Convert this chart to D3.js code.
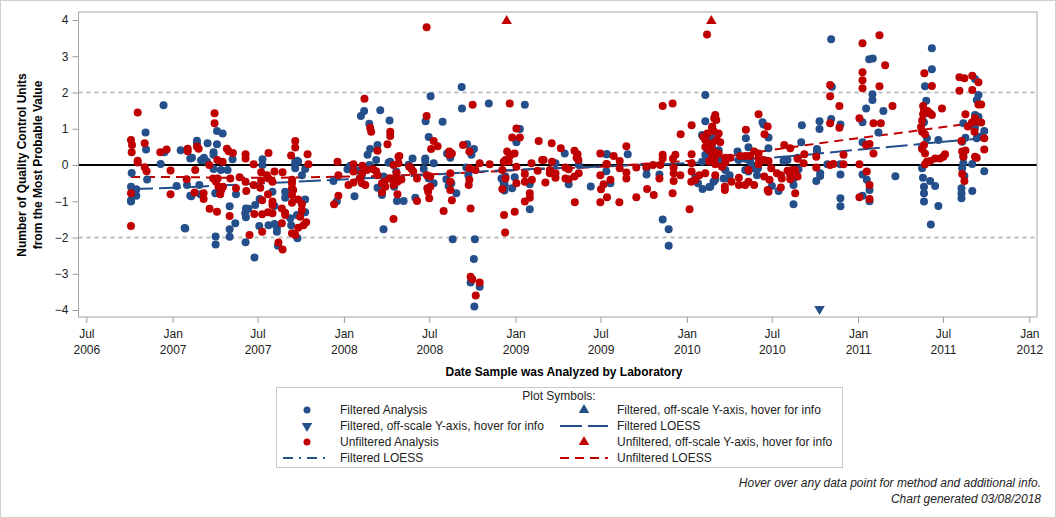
<!DOCTYPE html>
<html><head><meta charset="utf-8">
<script src="https://cdn.jsdelivr.net/npm/d3@7"></script>
<style>body{margin:0;background:#fff}svg{display:block;font-family:"Liberation Sans",Arial,sans-serif}</style>
</head><body><svg id="c" width="1056" height="518"></svg>
<script>
// x values are decimal years (date sample analyzed), y values in QC units
const filteredPts = [
[2006.947,1.65],[2006.842,0.9],[2006.845,0.43],[2007.047,0.41],[2007.103,0.18],[2006.930,0.03],[2006.761,-0.22],[2006.851,-0.4],
[2006.757,-0.6],[2006.788,-0.67],[2006.788,-0.85],[2006.757,-1.01],[2006.757,-0.97],[2007.023,-0.58],[2007.103,-0.85],[2007.070,-1.74],[2006.952,0.35],
[2007.259,0.94],[2007.292,0.87],[2007.142,0.67],[2007.142,0.6],[2007.204,0.6],[2007.259,0.57],[2007.113,0.2],[2007.166,0.13],[2007.239,0.35],
[2007.239,0.28],[2007.183,0.2],[2007.2,0.1],[2007.35,0.16],[2007.525,0.16],[2007.525,0.0],[2007.239,-0.11],[2007.282,-0.14],[2007.321,-0.14],
[2007.084,-0.55],[2007.156,-0.55],[2007.109,-0.86],[2007.162,-0.81],[2007.249,-0.78],[2007.268,-0.72],[2007.37,-0.81],[2007.333,-1.14],
[2007.366,-1.61],[2007.333,-1.77],[2007.333,-1.98],[2007.428,-1.2],[2007.443,-1.21],[2007.424,-1.33],[2007.428,-1.44],[2007.482,-1.1],
[2007.426,-2.13],[2007.251,-1.97],[2007.251,-2.19],[2007.478,-2.55],[2007.508,-0.94],[2007.506,-1.68],[2007.583,-0.74],[2007.595,-1.13],
[2007.56,-1.66],[2007.595,-1.63],[2007.609,-1.73],[2007.609,-1.84],[2007.657,-0.9],[2007.657,-0.74],[2007.615,-2.23],[2007.687,-1.47],
[2007.692,-1.66],[2007.716,-1.93],[2007.074,-1.75],[2007.716,0.0],
[2007.726,0.12],[2007.716,0.08],[2007.733,0.1],[2007.716,-0.09],[2007.774,-0.11],[2007.755,-0.28],[2007.774,-0.95],[2007.774,-1.3],
[2007.726,-1.38],[2007.729,-2.02],[2007.939,-0.44],[2007.959,-1.0],[2008.021,-0.12],[2008.037,-0.02],[2008.062,-0.86],[2008.099,1.35],
[2008.118,1.49],[2008.148,1.14],[2008.212,1.51],[2008.266,1.23],[2008.153,0.44],[2008.138,0.28],[2008.196,0.55],[2008.188,0.14],
[2008.149,0.0],[2008.079,-0.15],[2008.105,-0.28],[2008.196,-0.63],[2008.222,-0.83],[2008.231,-0.32],[2008.26,0.06],[2008.27,0.09],
[2008.305,-0.18],[2008.293,-0.6],[2008.309,-0.99],[2008.231,-1.77],
[2008.686,2.15],[2008.505,1.9],[2008.688,1.56],[2008.844,1.7],[2008.476,1.21],[2008.575,1.19],[2008.494,0.77],[2008.718,0.57],
[2008.758,0.44],[2008.743,0.28],[2008.601,0.32],[2008.62,0.2],[2008.4,0.18],[2008.474,0.18],[2008.474,0.11],[2008.523,0.05],
[2008.377,0.01],[2008.465,-0.11],[2008.494,-0.37],[2008.523,-0.5],[2008.416,-0.9],[2008.348,-0.99],[2008.597,-0.39],[2008.61,-0.58],
[2008.626,-0.5],[2008.655,-0.78],[2008.634,-2.05],[2008.713,-0.07],[2008.725,-0.28],[2008.763,-2.05],[2008.757,-2.59],[2008.738,-3.24],
[2008.791,-3.36],[2008.76,-3.9],[2008.918,-0.37],[2008.931,-0.5],
[2009.054,1.66],[2009.025,0.99],[2009.005,0.63],[2009.287,0.32],[2009.369,0.0],[2009.53,0.3],[2009.233,0.05],[2009.2,-0.16],
[2009.31,-0.53],[2008.941,-0.32],[2008.995,-0.34],[2008.937,-0.55],[2008.98,-0.64],[2008.935,-0.7],[2009.083,-0.53],[2009.083,-1.22],
[2009.439,-0.59],[2009.53,-0.17],
[2010.108,1.93],[2010.108,1.21],[2010.089,0.83],[2009.655,0.3],[2009.534,0.3],[2009.554,-0.5],[2009.765,-0.09],[2009.765,-0.26],
[2009.84,-0.26],[2009.859,-1.5],[2009.894,-1.77],[2009.894,-2.23],[2010.05,-0.34],[2010.065,-0.5],[2010.092,-0.66],[2010.131,-0.61],
[2010.156,-0.46],[2010.089,0.09],[2010.108,0.28],[2010.137,0.23],[2010.147,0.74],[2010.147,0.48],
[2010.147,0.61],[2010.186,0.41],[2010.176,0.23],[2010.195,0.09],[2010.166,0.2],[2010.166,-0.41],[2010.137,-0.6],[2010.215,-0.37],
[2010.235,-0.37],[2010.25,-0.28],[2010.225,-0.14],[2010.296,0.37],[2010.302,0.14],[2010.341,0.17],[2010.37,0.17],[2010.37,0.09],
[2010.38,0.0],[2010.341,-0.14],[2010.36,-0.18],[2010.389,-0.09],[2010.345,0.74],[2010.36,0.49],[2010.442,1.18],[2010.448,1.12],
[2010.477,0.76],[2010.477,0.46],[2010.416,-0.09],[2010.41,-0.28],[2010.497,-0.58],[2010.536,-0.72],[2010.565,0.11],[2010.588,0.14],
[2010.623,-0.37],[2010.623,-0.55],[2010.623,-1.08],[2010.652,-0.12],[2010.647,0.2],[2010.672,1.1],[2010.668,0.63],[2010.76,0.37],
[2010.756,-0.44],[2010.775,1.21],[2010.775,0.99],[2010.779,-0.3],
[2010.843,3.47],[2010.847,2.16],[2011.065,2.92],[2011.086,2.94],[2011.084,1.95],[2011.084,1.79],[2011.047,1.56],[2011.148,1.49],
[2010.843,1.27],[2010.897,1.12],[2011.026,1.18],[2011.119,0.9],[2011.026,0.63],[2010.76,0.44],[2010.821,0.02],[2010.896,0.02],
[2010.779,-0.23],[2010.897,-0.26],[2011.026,-0.26],[2011.051,-0.41],[2011.067,-0.69],[2011.026,-0.85],[2011.067,-1.0],[2010.897,-0.92],
[2010.897,-1.14],[2011.218,-0.31],[2011.391,2.17],[2011.385,1.18],[2011.374,0.5],[2011.374,-0.09],[2011.379,-0.35],[2011.385,-0.6],
[2011.385,-0.78],[2011.385,-1.01],
[2011.431,3.22],[2011.431,2.64],[2011.398,1.77],[2011.402,1.43],[2011.402,0.74],[2011.469,0.69],[2011.421,-0.44],[2011.45,-0.58],
[2011.469,-1.13],[2011.425,-1.64],[2011.683,2.37],[2011.703,1.93],[2011.693,1.79],[2011.683,1.38],[2011.703,1.33],[2011.615,1.15],
[2011.667,1.15],[2011.683,1.03],[2011.737,0.94],[2011.627,0.75],[2011.608,0.64],[2011.693,0.74],[2011.712,0.78],[2011.615,0.23],
[2011.615,0.05],[2011.608,-0.09],[2011.667,0.03],[2011.621,-0.3],[2011.737,-0.17],[2011.604,-0.64],[2011.604,-0.78],[2011.604,-0.92],
[2011.667,-0.72]
];
const unfilteredPts = [
[2006.796,1.45],[2006.757,0.69],[2006.763,0.55],[2006.837,0.6],[2006.761,0.35],[2006.928,0.35],[2006.965,0.43],[2007.088,0.45],
[2007.088,0.38],[2006.796,0.12],[2006.796,0.07],[2006.837,-0.06],[2006.848,-0.17],[2006.988,-0.15],[2007.082,-0.39],[2006.757,-0.78],
[2006.988,-0.81],[2006.757,-1.68],
[2007.245,1.43],[2007.245,1.15],[2007.152,0.45],[2007.142,0.51],[2007.317,0.45],[2007.327,0.38],[2007.352,0.33],[2007.426,0.3],
[2007.426,0.18],[2007.56,0.33],[2007.261,0.14],[2007.292,0.09],[2007.214,0.0],[2007.473,0.02],[2007.132,-0.14],[2007.517,-0.2],
[2007.595,-0.18],[2007.642,-0.2],[2007.692,0.26],[2007.237,-0.37],[2007.263,-0.37],[2007.337,-0.37],[2007.391,-0.34],[2007.426,-0.46],
[2007.473,-0.55],[2007.551,-0.28],[2007.56,-0.37],[2007.517,-0.43],[2007.583,-0.46],[2007.128,-0.76],[2007.181,-0.78],[2007.181,-0.94],
[2007.253,-0.46],[2007.268,-0.6],[2007.284,-0.69],[2007.278,-0.81],[2007.294,-0.6],[2007.37,-0.64],[2007.43,-0.72],[2007.216,-1.21],
[2007.259,-1.29],[2007.333,-1.41],[2007.477,-1.35],[2007.449,-1.93],[2007.512,-0.63],[2007.523,-0.97],[2007.523,-1.36],[2007.523,-1.84],
[2007.557,-0.81],[2007.583,-1.01],[2007.583,-1.1],[2007.557,-1.3],[2007.583,-1.33],[2007.638,-1.2],[2007.657,-1.32],[2007.638,-1.61],
[2007.657,-1.38],[2007.618,-2.14],[2007.642,-2.33],[2007.697,-0.5],[2007.697,-0.64],[2007.697,-0.83],[2007.697,-1.04],[2007.697,-1.88],
[2007.716,0.66],[2007.716,0.48],
[2007.788,0.3],[2007.793,0.02],[2007.698,-0.41],[2007.704,-0.69],[2007.733,-0.95],[2007.755,-1.08],[2007.755,-1.24],[2007.745,-1.43],
[2007.78,-1.58],[2007.733,-1.73],[2007.764,-1.66],[2007.716,-1.93],[2007.963,0.09],[2007.968,-0.28],[2007.968,-0.85],[2007.943,-1.08],
[2008.027,-0.55],[2008.056,0.02],[2008.056,-0.18],[2008.056,-0.48],[2008.12,1.83],[2008.153,1.03],[2008.159,0.92],[2008.27,0.92],
[2008.27,0.8],[2008.254,0.57],[2008.196,0.39],[2008.108,-0.02],[2008.135,-0.14],[2008.169,-0.11],[2008.188,-0.17],[2008.196,-0.28],
[2008.105,-0.23],[2008.095,-0.37],[2008.105,-0.5],[2008.125,-0.55],[2008.222,-0.5],[2008.241,-0.6],[2008.222,-0.75],[2008.237,-0.46],
[2008.266,-0.37],[2008.289,-0.55],[2008.289,0.0],[2008.318,0.05],[2008.318,0.23],[2008.312,-0.81],[2008.289,-1.49],
[2008.482,3.8],[2008.75,1.66],[2008.482,1.35],[2008.523,0.66],[2008.546,0.52],[2008.508,0.44],[2008.694,0.55],[2008.731,0.37],
[2008.614,0.37],[2008.629,0.32],[2008.614,0.28],[2008.323,0.25],[2008.381,-0.05],[2008.393,-0.1],[2008.404,-0.18],[2008.307,-0.23],
[2008.307,-0.41],[2008.312,-0.46],[2008.335,-0.4],[2008.426,-0.37],[2008.484,-0.28],[2008.503,-0.32],[2008.486,-0.64],[2008.503,-0.6],
[2008.491,-0.74],[2008.497,-0.92],[2008.426,-0.99],[2008.62,-0.23],[2008.62,-0.46],[2008.62,-0.69],[2008.629,-0.97],[2008.581,-1.27],
[2008.731,-0.09],[2008.731,-0.41],[2008.727,-0.55],[2008.766,-0.14],[2008.791,0.05],[2008.849,0.02],[2008.738,-1.2],[2008.738,-3.08],
[2008.748,-3.15],[2008.791,-3.24],[2008.768,-3.6],[2008.931,0.09],[2008.923,-0.14],[2008.933,-1.38],[2008.939,-1.86],
[2008.966,1.7],[2009.005,1.01],[2008.98,0.76],[2009.025,0.76],[2009.135,0.66],[2009.211,0.6],[2009.264,0.46],[2009.344,0.39],
[2009.362,0.3],[2009.356,0.2],[2009.367,0.14],[2009.495,0.32],[2009.53,0.03],[2008.951,0.37],[2008.966,0.25],[2008.941,0.14],
[2008.96,0.1],[2008.994,0.32],[2009.005,-0.05],[2009.093,0.05],[2009.155,0.14],[2009.164,0.14],[2009.213,0.09],[2009.129,-0.16],
[2009.2,-0.14],[2009.2,-0.23],[2009.233,-0.23],[2009.233,-0.35],[2009.291,-0.07],[2009.31,-0.12],[2009.291,-0.37],[2009.31,-0.39],
[2009.344,-0.32],[2009.369,-0.23],[2008.941,-0.37],[2008.923,-0.66],[2009.005,-0.5],[2009.054,-0.25],[2009.054,-0.46],[2009.095,-0.41],
[2009.083,-0.78],[2009.083,-0.9],[2009.054,-1.01],[2009.174,-0.48],[2008.995,-1.29],[2009.346,-1.03],[2009.495,-0.28],[2009.499,-0.67],
[2009.514,-0.53],[2009.495,-1.03],[2009.534,-0.89],
[2010.118,3.6],[2009.859,1.63],[2009.917,1.7],[2009.964,0.85],[2010.028,1.1],[2010.096,0.78],[2010.108,0.69],[2010.12,0.87],
[2010.147,1.03],[2010.16,1.29],[2009.647,0.52],[2009.573,0.25],[2009.608,0.11],[2009.534,0.02],[2009.608,-0.09],[2009.647,-0.21],
[2009.647,-0.37],[2009.705,-0.07],[2009.554,-0.41],[2009.606,-1.03],[2009.705,-0.89],[2009.768,-0.66],[2009.807,-0.83],[2009.764,-0.05],
[2009.803,0.0],[2009.859,0.28],[2009.859,0.18],[2009.845,0.0],[2009.84,-0.37],[2009.933,0.28],[2009.919,0.17],[2009.923,-0.07],
[2009.923,-0.23],[2009.923,-0.44],[2009.917,-0.78],[2009.962,-0.28],[2010.016,-1.22],[2010.028,0.3],[2010.028,0.05],[2010.028,-0.18],
[2010.026,-0.46],[2010.05,-0.41],[2010.073,-0.28],[2010.108,-0.23],[2010.108,0.5],[2010.127,0.42],[2010.147,0.6],[2010.156,0.33],
[2010.162,0.2],[2010.131,0.1],
[2010.166,1.38],[2010.172,1.24],[2010.149,1.06],[2010.156,0.94],[2010.186,0.87],[2010.176,0.69],[2010.137,0.51],[2010.156,0.37],
[2010.186,0.32],[2010.195,0.63],[2010.147,0.23],[2010.166,0.02],[2010.205,-0.05],[2010.166,-0.28],[2010.225,0.2],[2010.254,0.2],
[2010.225,0.07],[2010.222,-0.6],[2010.222,-0.69],[2010.261,-0.46],[2010.304,-0.35],[2010.304,-0.55],[2010.341,-0.55],[2010.36,-0.46],
[2010.393,-0.55],[2010.312,0.25],[2010.341,0.25],[2010.37,0.25],[2010.345,0.97],[2010.36,-0.14],[2010.393,0.37],[2010.419,1.4],
[2010.472,1.06],[2010.454,0.85],[2010.419,0.32],[2010.419,0.18],[2010.448,0.14],[2010.419,0.02],[2010.477,0.11],[2010.493,-0.09],
[2010.452,-0.32],[2010.483,-0.41],[2010.472,-0.69],[2010.477,-0.74],[2010.526,-0.23],[2010.549,-0.28],[2010.555,-0.37],[2010.588,-0.16],
[2010.604,-0.28],[2010.614,-0.14],[2010.633,-0.14],[2010.549,-0.62],[2010.569,0.55],[2010.604,0.46],[2010.604,-0.39],[2010.647,-0.32],
[2010.633,-0.78],[2010.647,0.17],[2010.686,0.3],[2010.682,0.05],[2010.756,0.23],[2010.756,-0.07],
[2011.125,3.58],[2011.026,3.36],[2011.158,2.75],[2011.026,2.56],[2011.026,2.34],[2011.026,2.12],[2011.125,2.17],[2010.837,2.21],
[2010.837,1.9],[2010.891,1.63],[2011.201,1.63],[2010.837,1.15],[2010.891,1.03],[2011.008,1.29],[2011.09,1.15],[2011.133,1.15],
[2011.047,0.55],[2011.067,0.58],[2011.09,0.32],[2010.915,0.28],[2010.837,0.0],[2010.856,0.03],[2010.915,0.02],[2011.008,0.02],
[2011.051,-0.18],[2011.067,-0.55],[2011.008,-0.89],[2011.067,-0.94],[2011.387,2.53],[2011.38,1.63],[2011.38,1.4],[2011.374,1.23],
[2011.374,0.92],[2011.391,0.85],[2011.368,1.05],[2011.374,0.44],[2011.391,0.02],
[2011.431,2.18],[2011.385,1.52],[2011.391,1.47],[2011.405,1.49],[2011.421,1.43],[2011.431,1.38],[2011.49,1.56],[2011.385,0.55],
[2011.391,0.32],[2011.402,0.09],[2011.421,0.11],[2011.45,0.18],[2011.479,0.18],[2011.498,0.23],[2011.508,0.3],
[2011.592,2.42],[2011.621,2.39],[2011.667,2.46],[2011.703,2.28],[2011.592,2.05],[2011.667,2.07],[2011.703,1.67],[2011.719,1.67],
[2011.627,1.4],[2011.683,1.3],[2011.693,1.2],[2011.719,1.17],[2011.665,1.17],[2011.641,1.06],[2011.68,0.92],[2011.737,0.74],
[2011.604,0.66],[2011.737,0.43],[2011.608,0.37],[2011.627,0.4],[2011.615,0.23],[2011.683,0.23],[2011.693,0.2],[2011.608,-0.25],
[2011.621,-0.44]
];
// off-scale points (plotted at the axis limit)
const filteredOffLow = [2010.775];
const unfilteredOffHigh = [2008.948, 2010.143];
// LOESS fits
const loessFilteredYears = [2006.757,2007.0,2007.3,2007.6,2007.9,2008.2,2008.5,2008.8,2009.1,2009.4,2009.7,2010.0,2010.3,2010.6,2010.8,2011.0,2011.3,2011.5,2011.737];
const loessFiltered = [-0.66,-0.63,-0.56,-0.49,-0.42,-0.35,-0.27,-0.18,-0.11,-0.06,0.0,0.05,0.15,0.24,0.33,0.42,0.55,0.64,0.74];
const loessUnfilteredYears = [2006.757,2007.0,2007.3,2007.6,2007.9,2008.3,2008.6,2008.9,2009.2,2009.5,2009.8,2010.1,2010.4,2010.7,2011.0,2011.3,2011.5,2011.737];
const loessUnfiltered = [-0.33,-0.33,-0.35,-0.35,-0.33,-0.29,-0.24,-0.17,-0.1,-0.05,0.05,0.15,0.35,0.55,0.74,0.92,1.05,1.19];
const yTicks = [-4,-3,-2,-1,0,1,2,3,4];
const refLines = [-2,2];

const BLUE = "#244f8a", RED = "#c00000";
const svg = d3.select("#c");
function fyToDate(fy){ const y=Math.floor(fy); const a=new Date(y,0,1), b=new Date(y+1,0,1); return new Date(+a + (fy-y)*(b-a)); }

const L=78.5, R=1037, T=12, B=317;
const x = d3.scaleTime().domain([new Date(2006,6,1), new Date(2012,0,1)]).range([86.3,1029.3]);
const y = d3.scaleLinear().domain([-4,4]).range([310,20]);

// outer border
svg.append("rect").attr("x",0.5).attr("y",0.5).attr("width",1055).attr("height",517).attr("fill","none").attr("stroke","#cfcfcf");

// reference lines
svg.selectAll(".ref").data(refLines).join("line").attr("x1",L).attr("x2",R).attr("y1",d=>y(d)).attr("y2",d=>y(d))
  .attr("stroke","#bdbdbd").attr("stroke-width",2).attr("stroke-dasharray","4,4");
svg.append("line").attr("x1",L).attr("x2",R).attr("y1",y(0)).attr("y2",y(0)).attr("stroke","#000").attr("stroke-width",2);

// axes
const xAxis = d3.axisBottom(x).ticks(d3.timeMonth.every(6)).tickSize(6).tickFormat("");
const gx = svg.append("g").attr("transform",`translate(0,${B})`).call(xAxis);
gx.select(".domain").remove();
gx.selectAll(".tick line").attr("stroke","#9a9a9a");
gx.selectAll(".tick").each(function(d){
  const t=d3.select(this).append("text").attr("fill","#222").attr("font-size",12).attr("text-anchor","middle");
  t.append("tspan").attr("x",0).attr("y",21).text(d3.timeFormat("%b")(d));
  t.append("tspan").attr("x",0).attr("y",37).text(d3.timeFormat("%Y")(d));
});
const yAxis = d3.axisLeft(y).tickValues(yTicks).tickSize(6).tickPadding(4).tickFormat(d3.format("d"));
const gy = svg.append("g").attr("transform",`translate(${L},0)`).call(yAxis);
gy.select(".domain").remove();
gy.selectAll(".tick line").attr("stroke","#9a9a9a");
gy.selectAll(".tick text").attr("font-size",12).attr("fill","#222").attr("font-family","Liberation Sans, Arial, sans-serif");

// frame
svg.append("rect").attr("x",L).attr("y",T).attr("width",R-L).attr("height",B-T).attr("fill","none").attr("stroke","#a6a6a6");

// LOESS lines
const lineF = d3.line().x((d,i)=>x(fyToDate(loessFilteredYears[i]))).y(d=>y(d)).curve(d3.curveMonotoneX);
const lineU = d3.line().x((d,i)=>x(fyToDate(loessUnfilteredYears[i]))).y(d=>y(d)).curve(d3.curveMonotoneX);
svg.append("path").attr("d",lineU(loessUnfiltered)).attr("fill","none").attr("stroke",RED).attr("stroke-width",2).attr("stroke-dasharray","9,6");
svg.append("path").attr("d",lineF(loessFiltered)).attr("fill","none").attr("stroke",BLUE).attr("stroke-width",2).attr("stroke-dasharray","22,6");

// points
const clip = svg.append("clipPath").attr("id","pc").append("rect").attr("x",L).attr("y",T).attr("width",R-L).attr("height",B-T);
const gp = svg.append("g").attr("clip-path","url(#pc)");
gp.selectAll(".fp").data(filteredPts).join("circle").attr("cx",d=>x(fyToDate(d[0]))).attr("cy",d=>y(d[1])).attr("r",4).attr("fill",BLUE);
gp.selectAll(".up").data(unfilteredPts).join("circle").attr("cx",d=>x(fyToDate(d[0]))).attr("cy",d=>y(d[1])).attr("r",4).attr("fill",RED);
const tri = d3.symbol().type(d3.symbolTriangle).size(48);
svg.selectAll(".uo").data(unfilteredOffHigh).join("path").attr("d",tri).attr("fill",RED)
  .attr("transform",d=>`translate(${x(fyToDate(d))},${y(4)+1})`);
svg.selectAll(".fo").data(filteredOffLow).join("path").attr("d",tri).attr("fill",BLUE)
  .attr("transform",d=>`translate(${x(fyToDate(d))},${y(-4)-1}) rotate(180)`);

// axis titles
svg.append("text").attr("x",564).attr("y",376).attr("text-anchor","middle").attr("font-size",12).attr("font-weight","bold").attr("fill","#000")
  .text("Date Sample was Analyzed by Laboratory");
const yt = svg.append("text").attr("transform","translate(26,165) rotate(-90)").attr("text-anchor","middle").attr("font-size",12).attr("font-weight","bold").attr("fill","#000");
yt.append("tspan").attr("x",0).attr("y",0).text("Number of Quality Control Units");
yt.append("tspan").attr("x",0).attr("y",16).text("from the Most Probable Value");

// legend
const lg = svg.append("g");
lg.append("rect").attr("x",276.5).attr("y",387.5).attr("width",566).attr("height",80).attr("fill","#fff").attr("stroke","#c8c8c8");
lg.append("text").attr("x",559).attr("y",400).attr("text-anchor","middle").attr("font-size",12).attr("fill","#222").text("Plot Symbols:");
const rows=[410,426,442,458], c1s=307, c1t=340, c2s=584, c2t=617;
const items = [
 {cx:c1s,y:rows[0],type:"circle",color:BLUE,label:"Filtered Analysis",tx:c1t},
 {cx:c2s,y:rows[0],type:"up",color:BLUE,label:"Filtered, off-scale Y-axis, hover for info",tx:c2t},
 {cx:c1s,y:rows[1],type:"down",color:BLUE,label:"Filtered, off-scale Y-axis, hover for info",tx:c1t},
 {cx:c2s,y:rows[1],type:"line",dash:"22,6",color:BLUE,label:"Filtered LOESS",tx:c2t},
 {cx:c1s,y:rows[2],type:"circle",color:RED,label:"Unfiltered Analysis",tx:c1t},
 {cx:c2s,y:rows[2],type:"up",color:RED,label:"Unfiltered, off-scale Y-axis, hover for info",tx:c2t},
 {cx:c1s,y:rows[3],type:"line",dash:"10,6,2,6",color:BLUE,label:"Filtered LOESS",tx:c1t},
 {cx:c2s,y:rows[3],type:"line",dash:"9,6",color:RED,label:"Unfiltered LOESS",tx:c2t}
];
items.forEach(it=>{
  if(it.type==="circle") lg.append("circle").attr("cx",it.cx).attr("cy",it.y).attr("r",3.5).attr("fill",it.color);
  else if(it.type==="up") lg.append("path").attr("d",tri).attr("fill",it.color).attr("transform",`translate(${it.cx},${it.y})`);
  else if(it.type==="down") lg.append("path").attr("d",tri).attr("fill",it.color).attr("transform",`translate(${it.cx},${it.y}) rotate(180)`);
  else lg.append("line").attr("x1",it.cx-24).attr("x2",it.cx+24).attr("y1",it.y).attr("y2",it.y).attr("stroke",it.color).attr("stroke-width",2).attr("stroke-dasharray",it.dash);
  lg.append("text").attr("x",it.tx).attr("y",it.y+4).attr("font-size",12).attr("fill","#222").text(it.label);
});

// footnotes
svg.append("text").attr("x",1041).attr("y",487).attr("text-anchor","end").attr("font-size",12).attr("font-style","italic").attr("fill","#222")
  .text("Hover over any data point for method and additional info.");
svg.append("text").attr("x",1041).attr("y",503).attr("text-anchor","end").attr("font-size",12).attr("font-style","italic").attr("fill","#222")
  .text("Chart generated 03/08/2018");
</script></body></html>
